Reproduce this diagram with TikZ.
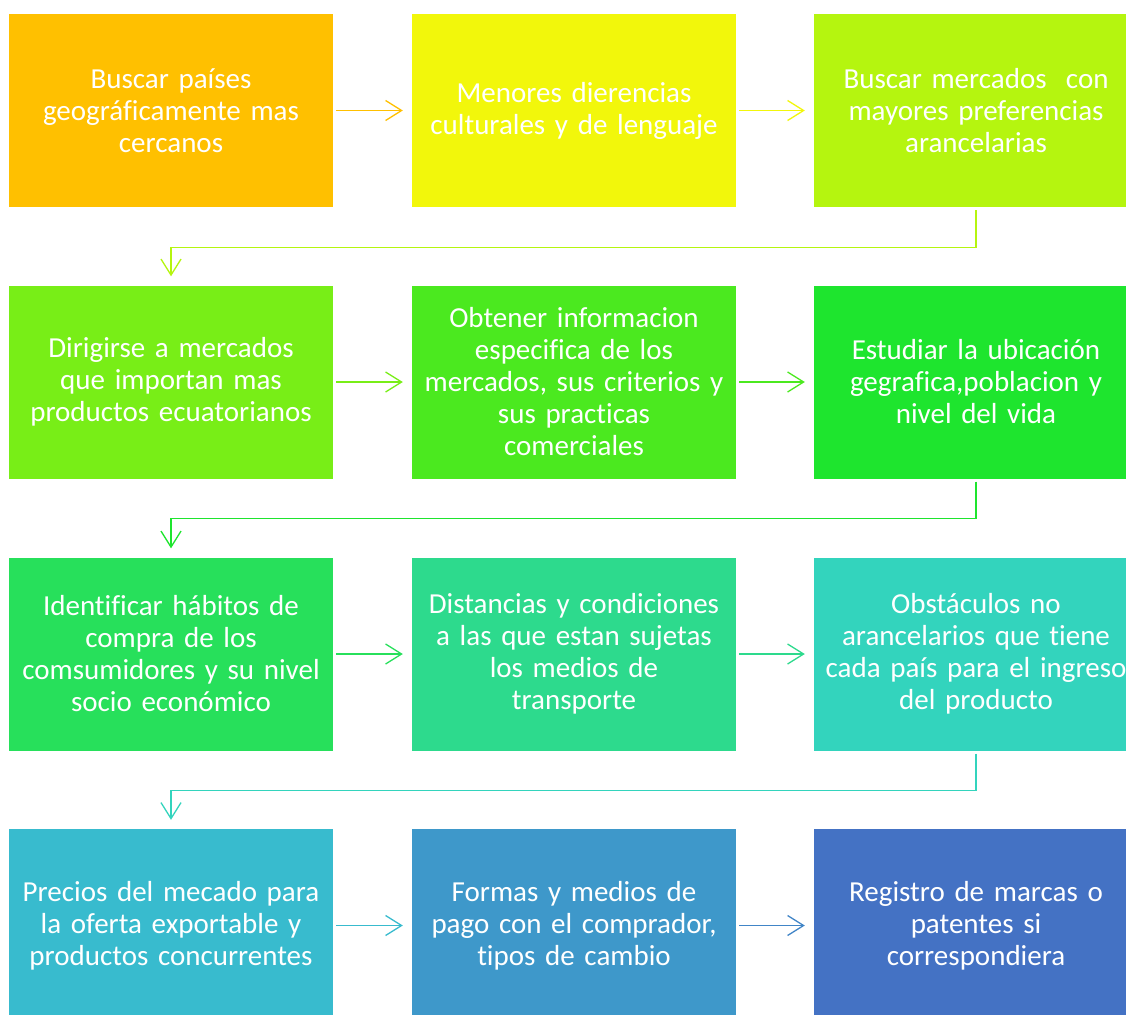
\documentclass[tikz,border=0pt]{standalone}
\usepackage{fontspec}
\setmainfont{Carlito}[Ligatures=NoCommon, WordSpace=0.85]
\usetikzlibrary{arrows.meta}
\definecolor{cA}{HTML}{FFC000}
\definecolor{cB}{HTML}{F2F70B}
\definecolor{cC}{HTML}{B5F50F}
\definecolor{cD}{HTML}{78EE17}
\definecolor{cE}{HTML}{4BE91F}
\definecolor{cF}{HTML}{1EE52E}
\definecolor{cG}{HTML}{27E05B}
\definecolor{cH}{HTML}{2DDA8D}
\definecolor{cI}{HTML}{33D4BD}
\definecolor{cJ}{HTML}{38BBCE}
\definecolor{cK}{HTML}{3E98CA}
\definecolor{cL}{HTML}{4472C4}
\tikzset{
  stepbox/.style={rectangle, minimum width=324pt, minimum height=193pt, inner sep=0pt,
    text width=318pt, align=center, text=white,
    font=\fontsize{29}{32}\selectfont},
  flowarrow/.style={line width=1.3pt, -{Straight Barb[length=16pt,width=20pt,line width=1.3pt]}},
}
\begin{document}
\begin{tikzpicture}[x=1pt,y=-1pt]
\useasboundingbox (0,0) rectangle (1126,1014);
\clip (0,0) rectangle (1126,1014);
\fill[white] (0,0) rectangle (1126,1014);
% row 1
\node[stepbox, fill=cA] (b1) at (171,110.5) {Buscar países\\ geográficamente mas\\ cercanos};
\node[stepbox, fill=cB] (b2) at (574,110.5) {Menores dierencias\\ culturales y de lenguaje};
\node[stepbox, fill=cC] (b3) at (976,110.5) {Buscar mercados\ \ con\\ mayores preferencias\\ arancelarias};
% row 2
\node[stepbox, fill=cD] (b4) at (171,382) {Dirigirse a mercados\\ que importan mas\\ productos ecuatorianos};
\node[stepbox, fill=cE] (b5) at (574,382) {Obtener informacion\\ especifica de los\\ mercados, sus criterios y\\ sus practicas\\ comerciales};
\node[stepbox, fill=cF] (b6) at (976,382) {Estudiar la ubicación\\ gegrafica,poblacion y\\ nivel del vida};
% row 3
\node[stepbox, fill=cG] (b7) at (171,654) {Identificar hábitos de\\ compra de los\\ comsumidores y su nivel\\ socio económico};
\node[stepbox, fill=cH] (b8) at (574,654) {Distancias y condiciones\\ a las que estan sujetas\\ los medios de\\ transporte};
\node[stepbox, fill=cI] (b9) at (976,654) {Obstáculos no\\ arancelarios que tiene\\ cada país para el ingreso\\ del producto};
% row 4
\node[stepbox, fill=cJ] (b10) at (171,925.5) {Precios del mecado para\\ la oferta exportable y\\ productos concurrentes};
\node[stepbox, fill=cK] (b11) at (574,925.5) {Formas y medios de\\ pago con el comprador,\\ tipos de cambio};
\node[stepbox, fill=cL] (b12) at (976,925.5) {Registro de marcas o\\ patentes si\\ correspondiera};
% horizontal arrows
\draw[flowarrow, cA] ([xshift=3pt]b1.east) -- ([xshift=-9pt]b2.west);
\draw[flowarrow, cB] ([xshift=3pt]b2.east) -- ([xshift=-9pt]b3.west);
\draw[flowarrow, cD] ([xshift=3pt]b4.east) -- ([xshift=-9pt]b5.west);
\draw[flowarrow, cE] ([xshift=3pt]b5.east) -- ([xshift=-9pt]b6.west);
\draw[flowarrow, cG] ([xshift=3pt]b7.east) -- ([xshift=-9pt]b8.west);
\draw[flowarrow, cH] ([xshift=3pt]b8.east) -- ([xshift=-9pt]b9.west);
\draw[flowarrow, cJ] ([xshift=3pt]b10.east) -- ([xshift=-9pt]b11.west);
\draw[flowarrow, cK!50!cL] ([xshift=3pt]b11.east) -- ([xshift=-9pt]b12.west);
% elbow arrows
\draw[flowarrow, cC] ([yshift=-3pt]b3.south) -- ++(0,37) -| ([yshift=9pt]b4.north);
\draw[flowarrow, cF] ([yshift=-3pt]b6.south) -- ++(0,37) -| ([yshift=9pt]b7.north);
\draw[flowarrow, cI] ([yshift=-3pt]b9.south) -- ++(0,37) -| ([yshift=9pt]b10.north);
\end{tikzpicture}
\end{document}
